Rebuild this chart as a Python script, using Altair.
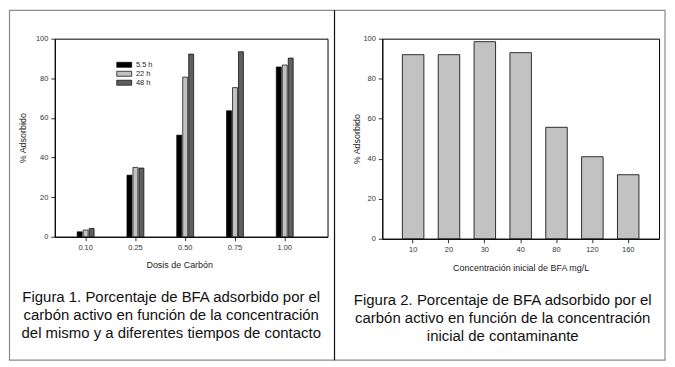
import altair as alt
import pandas as pd

# ---- data: figure 1 ----
dosis = ["0.10", "0.25", "0.50", "0.75", "1.00"]
tiempos = ["5.5 h", "22 h", "48 h"]
ads_55 = [2.5, 31.1, 51.3, 63.6, 85.7]
ads_22 = [3.4, 35.0, 80.6, 75.3, 86.7]
ads_48 = [4.2, 34.7, 92.2, 93.4, 90.2]
colores = ["#000000", "#c2c2c2", "#5f5f5f"]

# ---- data: figure 2 ----
conc = ["10", "20", "30", "40", "80", "120", "160"]
ads_conc = [92.0, 92.0, 98.5, 93.0, 55.7, 41.0, 32.0]

y_ticks = [0, 20, 40, 60, 80, 100]

caption1 = ["Figura 1. Porcentaje de BFA adsorbido por el",
            "carbón activo en función de la concentración",
            "del mismo y a diferentes tiempos de contacto"]
caption2 = ["Figura 2. Porcentaje de BFA adsorbido por el",
            "carbón activo en función de la concentración",
            "inicial de contaminante"]

FONT = "Liberation Sans"

df1 = pd.DataFrame({
    "dosis": dosis * 3,
    "tiempo": [tiempos[0]] * 5 + [tiempos[1]] * 5 + [tiempos[2]] * 5,
    "ads": ads_55 + ads_22 + ads_48,
})
df2 = pd.DataFrame({"conc": conc, "ads": ads_conc})
one = pd.DataFrame({"k": [0]})

W1, H1 = 274, 199
W2, H2 = 278, 201

bars1 = alt.Chart(df1).mark_bar(stroke="black", strokeWidth=0.7).encode(
    x=alt.X("dosis:N", sort=dosis,
            scale=alt.Scale(paddingInner=0.64, paddingOuter=0.56, align=0.393),
            axis=alt.Axis(title="Dosis de Carbón", labelAngle=0, titleX=125, titleY=28,
                          titleBaseline="middle")),
    xOffset=alt.XOffset("tiempo:N", sort=tiempos,
                        scale=alt.Scale(paddingInner=0.17, paddingOuter=0.085)),
    y=alt.Y("ads:Q", scale=alt.Scale(domain=[0, 100]),
            axis=alt.Axis(values=y_ticks, title="% Adsorbido", titleX=-32,
                          titleBaseline="middle")),
    color=alt.Color("tiempo:N", sort=tiempos,
                    scale=alt.Scale(domain=tiempos, range=colores),
                    legend=alt.Legend(title=None, orient="none", legendX=66, legendY=22.5,
                                      symbolType="M-3,-1H3V1H-3Z", symbolSize=25,
                                      symbolStrokeColor="black", symbolStrokeWidth=0.7,
                                      symbolOpacity=1, rowPadding=0, labelOffset=8,
                                      padding=0, labelFontSize=7.5, labelFont=FONT,
                                      labelColor="#222")),
)

border = alt.Chart(one).mark_rect(filled=False, stroke="#8a8a8a", strokeWidth=1.2).encode(
    x=alt.value(-45.5), x2=alt.value(613), y=alt.value(-28.5), y2=alt.value(323))
divider = alt.Chart(one).mark_rule(color="#111", strokeWidth=1.2).encode(
    x=alt.value(281), y=alt.value(-28.5), y2=alt.value(323))
cap1 = alt.Chart(one).mark_text(text=caption1, font=FONT, fontSize=15, lineHeight=18,
                                align="center", baseline="middle", color="#111").encode(
    x=alt.value(117), y=alt.value(260))

left = alt.layer(border, divider, bars1, cap1).properties(width=W1, height=H1)

bars2 = alt.Chart(df2).mark_bar(color="#c2c2c2", stroke="black", strokeWidth=0.8).encode(
    x=alt.X("conc:N", sort=conc,
            scale=alt.Scale(paddingInner=0.4, paddingOuter=0.56),
            axis=alt.Axis(title="Concentración inicial de BFA mg/L", labelAngle=0,
                          titleY=29, titleBaseline="middle")),
    y=alt.Y("ads:Q", scale=alt.Scale(domain=[0, 100]),
            axis=alt.Axis(values=y_ticks, title="% Adsorbido", titleX=-25.5,
                          titleBaseline="middle")),
)
cap2 = alt.Chart(one).mark_text(text=caption2, font=FONT, fontSize=15, lineHeight=18,
                                align="center", baseline="middle", color="#111").encode(
    x=alt.value(121), y=alt.value(263))

right = alt.layer(bars2, cap2).properties(width=W2, height=H2)

chart = alt.hconcat(left, right, spacing=55, bounds="flush").properties(
    padding=0, background="white"
).configure_view(stroke="black", strokeWidth=1).configure_axis(
    domainColor="black", domainWidth=1, tickColor="black", tickSize=4, tickWidth=0.8,
    labelFont=FONT, labelFontSize=7.5, labelColor="#333", labelPadding=3,
    titleFont=FONT, titleFontSize=9, titleFontWeight="normal", titleColor="#222",
    grid=False,
)

chart.save("out.html", embed_options={"renderer": "svg", "actions": False})
